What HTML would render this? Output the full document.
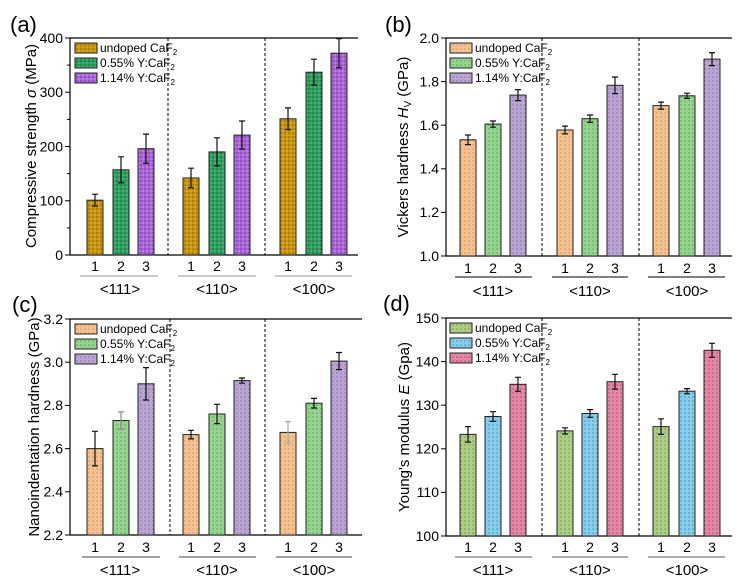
<!DOCTYPE html>
<html><head><meta charset="utf-8"><style>
body{margin:0;background:#fff}
svg{display:block;font-family:"Liberation Sans",sans-serif}
.bx{stroke:#222;stroke-width:1}
.eb{stroke:#111;stroke-width:1.2}
.ax{stroke:#000;stroke-width:1.2;fill:none}
.dl{stroke:#000;stroke-width:1;stroke-dasharray:3,2}
.tl{font-size:14px;text-anchor:end}
.xl{font-size:14px;text-anchor:middle}
.gl{font-size:15px;text-anchor:middle}
.lg{font-size:12px}
.pl{font-size:22px}
.at{font-size:15px;text-anchor:middle}
</style></head><body>
<svg width="738" height="579" viewBox="0 0 738 579">
<defs>
<pattern id="pA1" width="4" height="4" patternUnits="userSpaceOnUse"><rect width="4" height="4" fill="#c9960c"/><circle cx="1" cy="1" r="0.8" fill="#8a6400"/><circle cx="3" cy="3" r="0.8" fill="#e0b84a"/></pattern>
<pattern id="pA2" width="4" height="4" patternUnits="userSpaceOnUse"><rect width="4" height="4" fill="#2f9f5e"/><circle cx="1" cy="1" r="0.8" fill="#16683a"/><circle cx="3" cy="3" r="0.8" fill="#5cc285"/></pattern>
<pattern id="pA3" width="4" height="4" patternUnits="userSpaceOnUse"><rect width="4" height="4" fill="#a964d8"/><circle cx="1" cy="1" r="0.8" fill="#7b3aaa"/><circle cx="3" cy="3" r="0.8" fill="#cc98ee"/></pattern>
<pattern id="pB1" width="4" height="4" patternUnits="userSpaceOnUse"><rect width="4" height="4" fill="#f4c28e"/><circle cx="1" cy="1" r="0.8" fill="#d89a5c"/></pattern>
<pattern id="pB2" width="4" height="4" patternUnits="userSpaceOnUse"><rect width="4" height="4" fill="#94d48e"/><circle cx="1" cy="1" r="0.8" fill="#5aa85a"/></pattern>
<pattern id="pB3" width="4" height="4" patternUnits="userSpaceOnUse"><rect width="4" height="4" fill="#bba4d4"/><circle cx="1" cy="1" r="0.8" fill="#8a74a8"/></pattern>
<pattern id="pD1" width="4" height="4" patternUnits="userSpaceOnUse"><rect width="4" height="4" fill="#acce84"/><circle cx="1" cy="1" r="0.8" fill="#74984e"/></pattern>
<pattern id="pD2" width="4" height="4" patternUnits="userSpaceOnUse"><rect width="4" height="4" fill="#86cceb"/><circle cx="1" cy="1" r="0.8" fill="#4a94b8"/></pattern>
<pattern id="pD3" width="4" height="4" patternUnits="userSpaceOnUse"><rect width="4" height="4" fill="#e586a6"/><circle cx="1" cy="1" r="0.8" fill="#b0506e"/></pattern>
</defs>

<!-- ========== (a) ========== -->
<text x="10" y="32" class="pl">(a)</text>
<path class="ax" d="M358 38 H70 V255 H358"/>
<line class="dl" x1="168" y1="38" x2="168" y2="255"/>
<line class="dl" x1="265" y1="38" x2="265" y2="255"/>
<g stroke="#000"><line x1="70" y1="255" x2="65" y2="255"/><line x1="70" y1="200.75" x2="65" y2="200.75"/><line x1="70" y1="146.5" x2="65" y2="146.5"/><line x1="70" y1="92.25" x2="65" y2="92.25"/><line x1="70" y1="38" x2="65" y2="38"/>
<line x1="70" y1="227.9" x2="67" y2="227.9"/><line x1="70" y1="173.6" x2="67" y2="173.6"/><line x1="70" y1="119.4" x2="67" y2="119.4"/><line x1="70" y1="65.1" x2="67" y2="65.1"/></g>
<g class="tl"><text x="63" y="260">0</text><text x="63" y="205.5">100</text><text x="63" y="151.5">200</text><text x="63" y="97">300</text><text x="63" y="43">400</text></g>
<text class="at" transform="translate(36,146) rotate(-90)">Compressive strength <tspan font-style="italic">σ</tspan> (MPa)</text>
<g class="bx">
<rect x="87" y="200.2" width="16" height="54.8" fill="url(#pA1)"/><rect x="113" y="169.8" width="16" height="85.2" fill="url(#pA2)"/><rect x="138" y="148.7" width="16" height="106.3" fill="url(#pA3)"/>
<rect x="183" y="178" width="16" height="77" fill="url(#pA1)"/><rect x="209" y="151.9" width="16" height="103.1" fill="url(#pA2)"/><rect x="234" y="135.1" width="16" height="119.9" fill="url(#pA3)"/>
<rect x="280" y="118.8" width="16" height="136.2" fill="url(#pA1)"/><rect x="306" y="72.2" width="16" height="182.8" fill="url(#pA2)"/><rect x="331" y="53.2" width="16" height="201.8" fill="url(#pA3)"/>
</g>
<g class="eb">
<path d="M95 194.2V206.2M92 194.2H98M92 206.2H98"/><path d="M121 156.8V182.8M118 156.8H124M118 182.8H124"/><path d="M146 134.1V163.3M143 134.1H149M143 163.3H149"/>
<path d="M191 168.2V187.8M188 168.2H194M188 187.8H194"/><path d="M217 137.8V166M214 137.8H220M214 166H220"/><path d="M242 121V149.2M239 121H245M239 149.2H245"/>
<path d="M288 107.9V129.7M285 107.9H291M285 129.7H291"/><path d="M314 59.2V85.2M311 59.2H317M311 85.2H317"/><path d="M339 38.6V67.8M336 38.6H342M336 67.8H342"/>
</g>
<g class="xl"><text x="95" y="271">1</text><text x="121" y="271">2</text><text x="146" y="271">3</text><text x="191" y="271">1</text><text x="217" y="271">2</text><text x="242" y="271">3</text><text x="288" y="271">1</text><text x="314" y="271">2</text><text x="339" y="271">3</text></g>
<g class="gl"><text x="120" y="294">&lt;111&gt;</text><text x="217" y="294">&lt;110&gt;</text><text x="314" y="294">&lt;100&gt;</text></g>
<g stroke="#999"><line x1="80" y1="276" x2="158" y2="276"/><line x1="178" y1="276" x2="256" y2="276"/><line x1="275" y1="276" x2="352" y2="276"/></g>
<g class="bx"><rect x="75" y="43" width="22" height="10" fill="url(#pA1)"/><rect x="75" y="58" width="22" height="10" fill="url(#pA2)"/><rect x="75" y="73" width="22" height="10" fill="url(#pA3)"/></g>
<g class="lg"><text x="100" y="52">undoped CaF<tspan font-size="8" dy="3">2</tspan></text><text x="100" y="67">0.55% Y:CaF<tspan font-size="8" dy="3">2</tspan></text><text x="100" y="82">1.14% Y:CaF<tspan font-size="8" dy="3">2</tspan></text></g>

<!-- ========== (b) ========== -->
<text x="385" y="32" class="pl">(b)</text>
<path class="ax" d="M732 38 H446 V256 H732"/>
<line class="dl" x1="542" y1="38" x2="542" y2="256"/>
<line class="dl" x1="639" y1="38" x2="639" y2="256" stroke="#777"/>
<g stroke="#000"><line x1="446" y1="256" x2="441" y2="256"/><line x1="446" y1="212.4" x2="441" y2="212.4"/><line x1="446" y1="168.8" x2="441" y2="168.8"/><line x1="446" y1="125.2" x2="441" y2="125.2"/><line x1="446" y1="81.6" x2="441" y2="81.6"/><line x1="446" y1="38" x2="441" y2="38"/></g>
<g class="tl"><text x="439" y="261">1.0</text><text x="439" y="217">1.2</text><text x="439" y="173.5">1.4</text><text x="439" y="130">1.6</text><text x="439" y="86.5">1.8</text><text x="439" y="43">2.0</text></g>
<text class="at" transform="translate(408,147) rotate(-90)">Vickers hardness <tspan font-style="italic">H</tspan><tspan font-size="10" dy="3">V</tspan><tspan dy="-3"> (GPa)</tspan></text>
<g class="bx">
<rect x="460" y="139.8" width="16" height="116.2" fill="url(#pB1)"/><rect x="485" y="124.1" width="16" height="131.9" fill="url(#pB2)"/><rect x="510" y="95.1" width="16" height="160.9" fill="url(#pB3)"/>
<rect x="557" y="130" width="16" height="126" fill="url(#pB1)"/><rect x="582" y="118.7" width="16" height="137.3" fill="url(#pB2)"/><rect x="607" y="85.3" width="16" height="170.7" fill="url(#pB3)"/>
<rect x="653" y="105.6" width="16" height="150.4" fill="url(#pB1)"/><rect x="679" y="95.8" width="16" height="160.2" fill="url(#pB2)"/><rect x="704" y="59.1" width="16" height="196.9" fill="url(#pB3)"/>
</g>
<g class="eb">
<path d="M468 135V144.6M465 135H471M465 144.6H471"/><path d="M493 121V127.2M490 121H496M490 127.2H496"/><path d="M518 89.6V100.6M515 89.6H521M515 100.6H521"/>
<path d="M565 126.1V133.9M562 126.1H568M562 133.9H568"/><path d="M590 115V122.4M587 115H593M587 122.4H593"/><path d="M615 77V93.6M612 77H618M612 93.6H618"/>
<path d="M661 102.1V109.1M658 102.1H664M658 109.1H664"/><path d="M687 93.2V98.4M684 93.2H690M684 98.4H690"/><path d="M712 52.6V65.6M709 52.6H715M709 65.6H715"/>
</g>
<g class="xl"><text x="468" y="273">1</text><text x="493" y="273">2</text><text x="518" y="273">3</text><text x="565" y="273">1</text><text x="590" y="273">2</text><text x="615" y="273">3</text><text x="661" y="273">1</text><text x="687" y="273">2</text><text x="712" y="273">3</text></g>
<g class="gl"><text x="493" y="296">&lt;111&gt;</text><text x="590" y="296">&lt;110&gt;</text><text x="687" y="296">&lt;100&gt;</text></g>
<g stroke="#000"><line x1="455" y1="277" x2="532" y2="277"/><line x1="552" y1="277" x2="628" y2="277"/><line x1="648" y1="277" x2="725" y2="277"/></g>
<g class="bx"><rect x="450" y="43" width="22" height="10" fill="url(#pB1)"/><rect x="450" y="58" width="22" height="10" fill="url(#pB2)"/><rect x="450" y="73" width="22" height="10" fill="url(#pB3)"/></g>
<g class="lg"><text x="475" y="52">undoped CaF<tspan font-size="8" dy="3">2</tspan></text><text x="475" y="67">0.55% Y:CaF<tspan font-size="8" dy="3">2</tspan></text><text x="475" y="82">1.14% Y:CaF<tspan font-size="8" dy="3">2</tspan></text></g>

<!-- ========== (c) ========== -->
<text x="12" y="312" class="pl">(c)</text>
<path class="ax" d="M362 319 H70 V535 H362"/>
<line class="dl" x1="170" y1="319" x2="170" y2="535"/>
<line class="dl" x1="265" y1="319" x2="265" y2="535"/>
<g stroke="#000"><line x1="70" y1="535" x2="65" y2="535"/><line x1="70" y1="491.8" x2="65" y2="491.8"/><line x1="70" y1="448.6" x2="65" y2="448.6"/><line x1="70" y1="405.4" x2="65" y2="405.4"/><line x1="70" y1="362.2" x2="65" y2="362.2"/><line x1="70" y1="319" x2="65" y2="319"/></g>
<g class="tl"><text x="63" y="540">2.2</text><text x="63" y="496.5">2.4</text><text x="63" y="453.5">2.6</text><text x="63" y="410">2.8</text><text x="63" y="367">3.0</text><text x="63" y="324">3.2</text></g>
<text class="at" transform="translate(39,427) rotate(-90)">Nanoindentation hardness (GPa)</text>
<g class="bx">
<rect x="87" y="448.6" width="16" height="86.4" fill="url(#pB1)"/><rect x="113" y="420.5" width="16" height="114.5" fill="url(#pB2)"/><rect x="138" y="383.8" width="16" height="151.2" fill="url(#pB3)"/>
<rect x="183" y="434.6" width="16" height="100.4" fill="url(#pB1)"/><rect x="209" y="414" width="16" height="121" fill="url(#pB2)"/><rect x="234" y="380.6" width="16" height="154.4" fill="url(#pB3)"/>
<rect x="280" y="432.4" width="16" height="102.6" fill="url(#pB1)"/><rect x="306" y="403.2" width="16" height="131.8" fill="url(#pB2)"/><rect x="331" y="361.1" width="16" height="173.9" fill="url(#pB3)"/>
</g>
<g class="eb">
<path d="M95 431.3V465.9M92 431.3H98M92 465.9H98"/><path d="M121 411.9V429.1M118 411.9H124M118 429.1H124" stroke="#888"/><path d="M146 367.6V400M143 367.6H149M143 400H149"/>
<path d="M191 430.3V438.9M188 430.3H194M188 438.9H194"/><path d="M217 404.3V423.7M214 404.3H220M214 423.7H220"/><path d="M242 378V383.2M239 378H245M239 383.2H245"/>
<path d="M288 421.6V443.2M285 421.6H291M285 443.2H291" stroke="#aaa"/><path d="M314 398.4V408M311 398.4H317M311 408H317"/><path d="M339 352.5V369.7M336 352.5H342M336 369.7H342"/>
</g>
<g class="xl"><text x="95" y="552">1</text><text x="121" y="552">2</text><text x="146" y="552">3</text><text x="191" y="552">1</text><text x="217" y="552">2</text><text x="242" y="552">3</text><text x="288" y="552">1</text><text x="314" y="552">2</text><text x="339" y="552">3</text></g>
<g class="gl"><text x="120" y="575">&lt;111&gt;</text><text x="217" y="575">&lt;110&gt;</text><text x="314" y="575">&lt;100&gt;</text></g>
<g stroke="#444"><line x1="82" y1="557" x2="160" y2="557"/><line x1="179" y1="557" x2="256" y2="557"/><line x1="276" y1="557" x2="352" y2="557"/></g>
<g class="bx"><rect x="75" y="324" width="22" height="10" fill="url(#pB1)"/><rect x="75" y="339" width="22" height="10" fill="url(#pB2)"/><rect x="75" y="354" width="22" height="10" fill="url(#pB3)"/></g>
<g class="lg"><text x="100" y="333">undoped CaF<tspan font-size="8" dy="3">2</tspan></text><text x="100" y="348">0.55% Y:CaF<tspan font-size="8" dy="3">2</tspan></text><text x="100" y="363">1.14% Y:CaF<tspan font-size="8" dy="3">2</tspan></text></g>

<!-- ========== (d) ========== -->
<text x="383" y="311" class="pl">(d)</text>
<path class="ax" d="M732 318 H446 V536 H732"/>
<line class="dl" x1="542" y1="318" x2="542" y2="536"/>
<line class="dl" x1="639" y1="318" x2="639" y2="536"/>
<g stroke="#000"><line x1="446" y1="536" x2="441" y2="536"/><line x1="446" y1="492.4" x2="441" y2="492.4"/><line x1="446" y1="448.8" x2="441" y2="448.8"/><line x1="446" y1="405.2" x2="441" y2="405.2"/><line x1="446" y1="361.6" x2="441" y2="361.6"/><line x1="446" y1="318" x2="441" y2="318"/></g>
<g class="tl"><text x="439" y="541">100</text><text x="439" y="497">110</text><text x="439" y="453.5">120</text><text x="439" y="410">130</text><text x="439" y="366.5">140</text><text x="439" y="323">150</text></g>
<text class="at" transform="translate(409,427) rotate(-90)">Young's modulus <tspan font-style="italic">E</tspan> (Gpa)</text>
<g class="bx">
<rect x="460" y="434.4" width="16" height="101.6" fill="url(#pD1)"/><rect x="485" y="416.5" width="16" height="119.5" fill="url(#pD2)"/><rect x="510" y="384.3" width="16" height="151.7" fill="url(#pD3)"/>
<rect x="557" y="430.9" width="16" height="105.1" fill="url(#pD1)"/><rect x="582" y="413.5" width="16" height="122.5" fill="url(#pD2)"/><rect x="607" y="381.7" width="16" height="154.3" fill="url(#pD3)"/>
<rect x="653" y="426.6" width="16" height="109.4" fill="url(#pD1)"/><rect x="679" y="391.2" width="16" height="144.8" fill="url(#pD2)"/><rect x="704" y="350.3" width="16" height="185.7" fill="url(#pD3)"/>
</g>
<g class="eb">
<path d="M468 426.6V442.2M465 426.6H471M465 442.2H471"/><path d="M493 411.7V421.3M490 411.7H496M490 421.3H496"/><path d="M518 377.3V391.3M515 377.3H521M515 391.3H521"/>
<path d="M565 427.8V434M562 427.8H568M562 434H568"/><path d="M590 409.6V417.4M587 409.6H593M587 417.4H593"/><path d="M615 374.3V389.1M612 374.3H618M612 389.1H618"/>
<path d="M661 418.8V434.4M658 418.8H664M658 434.4H664"/><path d="M687 388.6V393.8M684 388.6H690M684 393.8H690"/><path d="M712 343.3V357.3M709 343.3H715M709 357.3H715"/>
</g>
<g class="xl"><text x="468" y="552">1</text><text x="493" y="552">2</text><text x="518" y="552">3</text><text x="565" y="552">1</text><text x="590" y="552">2</text><text x="615" y="552">3</text><text x="661" y="552">1</text><text x="687" y="552">2</text><text x="712" y="552">3</text></g>
<g class="gl"><text x="493" y="575">&lt;111&gt;</text><text x="590" y="575">&lt;110&gt;</text><text x="687" y="575">&lt;100&gt;</text></g>
<g stroke="#555"><line x1="455" y1="557" x2="532" y2="557"/><line x1="552" y1="557" x2="628" y2="557"/><line x1="648" y1="557" x2="725" y2="557"/></g>
<g class="bx"><rect x="450" y="323" width="22" height="10" fill="url(#pD1)"/><rect x="450" y="338" width="22" height="10" fill="url(#pD2)"/><rect x="450" y="353" width="22" height="10" fill="url(#pD3)"/></g>
<g class="lg"><text x="475" y="332">undoped CaF<tspan font-size="8" dy="3">2</tspan></text><text x="475" y="347">0.55% Y:CaF<tspan font-size="8" dy="3">2</tspan></text><text x="475" y="362">1.14% Y:CaF<tspan font-size="8" dy="3">2</tspan></text></g>
</svg>
</body></html>
